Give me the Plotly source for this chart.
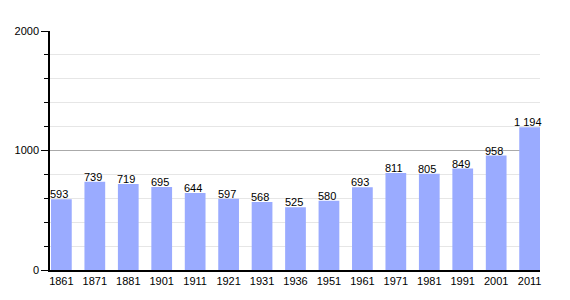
import plotly.graph_objects as go

years = ["1861","1871","1881","1901","1911","1921","1931","1936","1951","1961","1971","1981","1991","2001","2011"]
population = [593, 739, 719, 695, 644, 597, 568, 525, 580, 693, 811, 805, 849, 958, 1194]
labels = ["593","739","719","695","644","597","568","525","580","693","811","805","849","958","1 194"]

fig = go.Figure(go.Bar(
    x=years, y=population,
    marker=dict(color="#9aabff", line=dict(width=0)),
))
for i, (v, t) in enumerate(zip(population, labels)):
    fig.add_annotation(x=i, y=v, text=t, showarrow=False, yanchor="bottom",
                       xshift=-2, yshift=-3, font=dict(size=11, color="black"))
fig.update_layout(
    width=570, height=300,
    margin=dict(l=50, r=30, t=31, b=30),
    plot_bgcolor="white", paper_bgcolor="white",
    font=dict(family="Liberation Sans, Arial, sans-serif", size=11, color="black"),
    bargap=0.38, showlegend=False,
)
fig.update_xaxes(type="category", range=[-0.34, len(years) - 1 + 0.31], showline=True,
                 linecolor="black", linewidth=1.5,
                 ticks="", tickfont=dict(size=11), showgrid=False)
fig.update_yaxes(range=[0, 2000], tickvals=[0, 1000, 2000], showline=True, linecolor="black",
                 linewidth=1.5, ticks="outside", ticklen=7, tickcolor="black",
                 gridcolor="#aaaaaa", gridwidth=1, zeroline=False, tickfont=dict(size=11),
                 minor=dict(dtick=200, showgrid=True, gridcolor="#e6e6e6", ticks="outside",
                            ticklen=4, tickcolor="black"))
fig.write_html("out.html")
